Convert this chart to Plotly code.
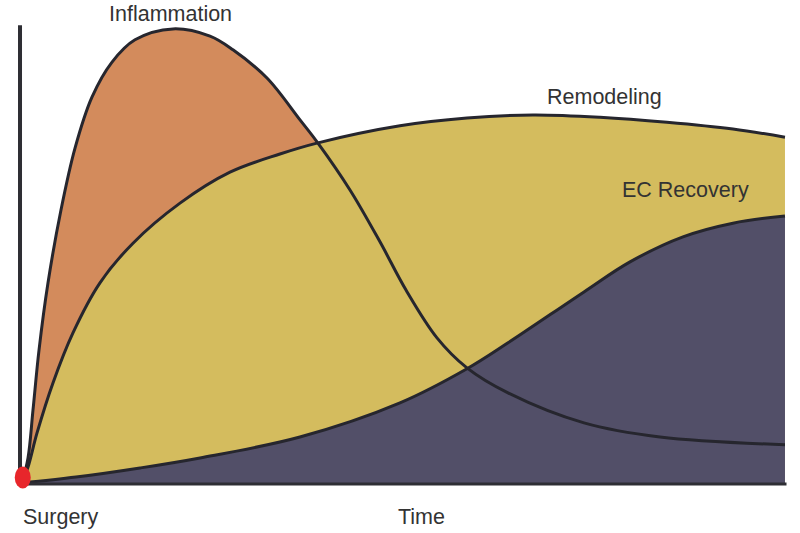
import plotly.graph_objects as go

# Time axis (0 = surgery, 100 = end of shown period), response level (0-100)
infl_t = [0, 0.79, 1.44, 2.23, 3.41, 5.11, 6.95, 9.17, 11.80, 14.81, 19.79, 24.64, 27.65, 32.11,
          36.44, 38.79, 42.99, 46.92, 50.33, 54.39, 58.32, 63.70, 73.66, 83.62, 100]
infl_v = [0, 5.5, 16.0, 29.2, 44.0, 60.0, 73.6, 84.8, 92.5, 97.4, 99.8, 98.2, 95.2, 89.0,
          79.8, 74.7, 64.4, 53.0, 42.4, 31.9, 25.3, 19.8, 13.2, 10.1, 8.4]

remod_t = [0, 0.79, 1.97, 4.06, 6.68, 10.22, 14.55, 20.71, 27.26, 33.81, 38.66, 49.54, 58.32,
           66.97, 75.75, 84.53, 93.18, 100]
remod_v = [0, 3.5, 11.0, 22.0, 33.0, 44.0, 52.7, 61.5, 68.3, 72.3, 74.7, 78.5, 80.2,
           80.9, 80.4, 79.3, 77.8, 76.0]

ec_t = [0, 7.08, 15.47, 23.33, 36.43, 49.54, 58.32, 63.70, 73.66, 79.69, 86.63, 93.18, 100]
ec_v = [0, 1.3, 3.3, 5.5, 10.1, 17.6, 25.1, 30.8, 42.0, 48.6, 54.1, 57.1, 58.7]

labels = {"Inflammation": (19.4, 103.1), "Remodeling": (76.4, 84.8), "EC Recovery": (86.9, 64.4),
          "Surgery": (5.1, -7.5), "Time": (52.4, -7.5)}

ORANGE = "#D38B5C"
YELLOW = "#D4BC5E"
SLATE = "#524F68"
LINE = "#26262E"
SMOOTH = 1.0

fig = go.Figure()
for t, v, c in [(infl_t, infl_v, ORANGE), (remod_t, remod_v, YELLOW), (ec_t, ec_v, SLATE)]:
    fig.add_trace(go.Scatter(x=t, y=v, mode="lines", fill="tozeroy", fillcolor=c,
                             line=dict(color="rgba(0,0,0,0)", width=0, shape="spline", smoothing=SMOOTH),
                             hoverinfo="skip", showlegend=False))
for t, v in [(remod_t, remod_v), (ec_t, ec_v), (infl_t, infl_v)]:
    fig.add_trace(go.Scatter(x=t, y=v, mode="lines",
                             line=dict(color=LINE, width=3, shape="spline", smoothing=SMOOTH),
                             hoverinfo="skip", showlegend=False))

# axes lines
fig.add_shape(type="line", x0=-0.26, x1=-0.26, y0=-0.4, y1=100.6, xref="x", yref="y",
              line=dict(color="#2E2E34", width=4))
fig.add_shape(type="line", x0=-0.26, x1=100.2, y0=-0.2, y1=-0.2, xref="x", yref="y",
              line=dict(color="#2E2E34", width=3), layer="above")

# surgery marker (slightly tall ellipse)
fig.add_shape(type="circle", xref="x", yref="y", x0=-0.95, x1=1.15, y0=-1.2, y1=3.6,
              fillcolor="#E8262B", line=dict(width=0), layer="above")

for text, (x, y) in labels.items():
    fig.add_annotation(x=x, y=y, text=text, showarrow=False, xref="x", yref="y",
                       font=dict(family="Liberation Sans, Arial, sans-serif", size=21.5, color="#333333"))

fig.update_layout(width=800, height=533, margin=dict(l=0, r=0, t=0, b=0),
                  paper_bgcolor="white", plot_bgcolor="white",
                  xaxis=dict(range=[-2.883, 101.97], visible=False, fixedrange=True),
                  yaxis=dict(range=[-10.99, 106.15], visible=False, fixedrange=True))
fig.write_html("out.html", config={"displayModeBar": False},
               post_script="document.body.style.margin='0';document.body.style.overflow='hidden';")
